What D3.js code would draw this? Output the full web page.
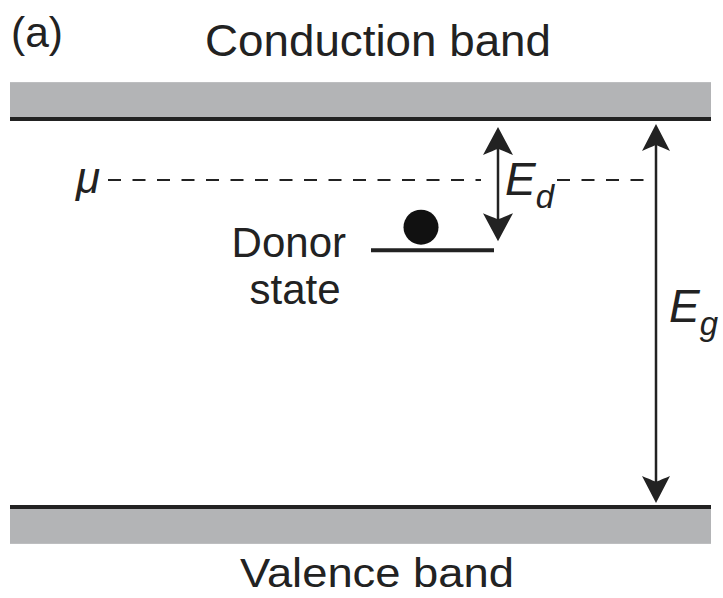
<!DOCTYPE html>
<html><head><meta charset="utf-8">
<script src="https://cdn.jsdelivr.net/npm/d3@7"></script>
<style>body{margin:0;background:#fff}svg{display:block}</style>
</head><body>
<script>
// Energies (relative, valence band edge = 0, conduction band edge = 1)
const bandNames = ["Conduction band", "Valence band"];
const bandEdges = [1.0, 0.0];
const bandThickness = [0.095, 0.095];   // gray band depth in energy units
const chemicalPotential = 0.843;        // mu
const donorLevel = 0.662;               // donor state energy
const energyLabels = ["E", "d", "E", "g"];
const panelLabel = "(a)";

const W = 723, H = 598;
const svg = d3.select("body").append("svg").attr("width", W).attr("height", H);
const y = d3.scaleLinear().domain([0, 1]).range([507, 119]);
const x = d3.scaleLinear().domain([0, 1]).range([10, 711]);
const ink = "#222";
const font = "'Liberation Sans', Arial, Helvetica, sans-serif";

// bands
const bands = bandNames.map((n, i) => ({name: n, edge: bandEdges[i], t: bandThickness[i], up: i === 0}));
bands.forEach(b => {
  const y0 = b.up ? y(b.edge + b.t) : y(b.edge);
  const y1 = b.up ? y(b.edge) : y(b.edge - b.t);
  svg.append("rect").attr("x", x(0)).attr("y", y0).attr("width", x(1) - x(0)).attr("height", y1 - y0).attr("fill", "#b3b4b6");
  svg.append("line").attr("x1", x(0)).attr("x2", x(1)).attr("y1", y(b.edge)).attr("y2", y(b.edge))
    .attr("stroke", ink).attr("stroke-width", 4);
});
svg.append("text").attr("x", 378).attr("y", 56).attr("text-anchor", "middle")
  .attr("font-family", font).attr("font-size", 44).attr("fill", ink)
  .attr("textLength", 346).attr("lengthAdjust", "spacingAndGlyphs").text(bandNames[0]);
svg.append("text").attr("x", 377).attr("y", 587).attr("text-anchor", "middle")
  .attr("font-family", font).attr("font-size", 41).attr("fill", ink)
  .attr("textLength", 274).attr("lengthAdjust", "spacingAndGlyphs").text(bandNames[1]);
svg.append("text").attr("x", 11).attr("y", 47).attr("font-family", font).attr("font-size", 42)
  .attr("fill", ink).attr("textLength", 52).attr("lengthAdjust", "spacingAndGlyphs").text(panelLabel);

// chemical potential
const yMu = y(chemicalPotential);
svg.append("text").attr("x", 76).attr("y", 193).attr("font-family", font).attr("font-style", "italic")
  .attr("font-size", 44).attr("fill", ink).text("μ");
[[108, 481], [557, 656]].forEach(([a, b]) => {
  svg.append("line").attr("x1", a).attr("x2", b).attr("y1", yMu).attr("y2", yMu)
    .attr("stroke", ink).attr("stroke-width", 2).attr("stroke-dasharray", "13,11.5");
});

// donor state
const yD = y(donorLevel);
svg.append("line").attr("x1", 371).attr("x2", 494).attr("y1", yD).attr("y2", yD).attr("stroke", ink).attr("stroke-width", 4);
svg.append("circle").attr("cx", 421).attr("cy", yD - 23).attr("r", 17.5).attr("fill", "#111");
svg.append("text").attr("x", 346).attr("y", 257).attr("text-anchor", "end").attr("font-family", font)
  .attr("font-size", 42).attr("fill", ink).text("Donor");
svg.append("text").attr("x", 295).attr("y", 304).attr("text-anchor", "middle").attr("font-family", font)
  .attr("font-size", 42).attr("fill", ink).text("state");

// arrows
function head(cx, tipY, dir, len, w) {
  // dir = -1 pointing up, +1 pointing down
  const by = tipY - dir * len;
  const ny = tipY - dir * len * 0.78;
  return `M${cx},${tipY} L${cx - w / 2},${by} Q${cx},${ny} ${cx - 0.01},${ny} Q${cx},${ny} ${cx + w / 2},${by} Z`;
}
function dbl(cx, yTop, yBot, len, w) {
  svg.append("line").attr("x1", cx).attr("x2", cx).attr("y1", yTop + len * 0.6).attr("y2", yBot - len * 0.6)
    .attr("stroke", ink).attr("stroke-width", 2.5);
  svg.append("path").attr("d", head(cx, yTop, -1, len, w)).attr("fill", ink);
  svg.append("path").attr("d", head(cx, yBot, 1, len, w)).attr("fill", ink);
}
dbl(498, y(bandEdges[0]) + 8, yD - 9, 28, 30);
dbl(656, y(bandEdges[0]) + 5, y(bandEdges[1]) - 4, 27, 28);

// energy labels
function elabel(xp, yp, main, sub) {
  const t = svg.append("text").attr("x", xp).attr("y", yp).attr("font-family", font).attr("font-style", "italic")
    .attr("font-size", 46).attr("fill", ink);
  t.append("tspan").text(main);
  t.append("tspan").attr("font-size", 33).attr("dy", 13).text(sub);
}
elabel(505, 195, energyLabels[0], energyLabels[1]);
elabel(669, 322, energyLabels[2], energyLabels[3]);
</script>
</body></html>
